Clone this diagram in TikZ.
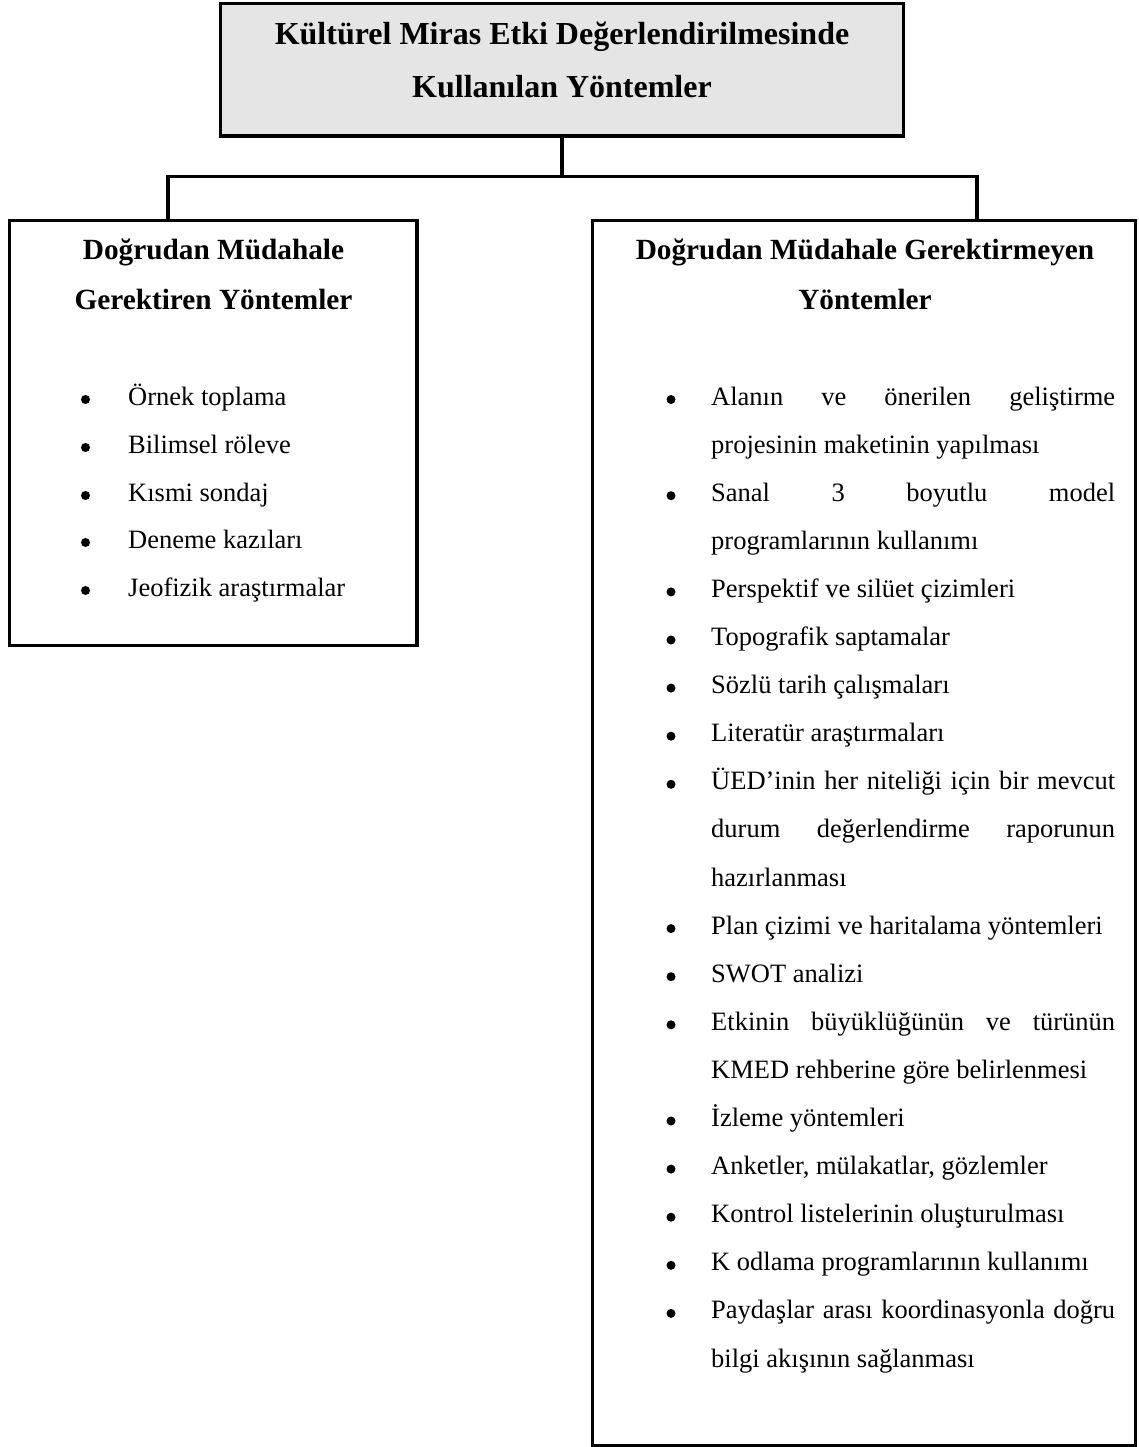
\documentclass[tikz,border=0pt]{standalone}
\usepackage{fontspec}
\setmainfont{Liberation Serif}
\tikzset{
  box/.style={draw, line width=3.5pt, rectangle, inner sep=0pt},
  conn/.style={line width=3.5pt},
  titletxt/.style={font=\fontsize{32}{38}\selectfont\bfseries, anchor=base, inner sep=0pt},
  headtxt/.style={font=\fontsize{29.3}{35}\selectfont\bfseries, anchor=base, inner sep=0pt},
  itemtxt/.style={font=\fontsize{26.5}{32}\selectfont, anchor=base west, inner sep=0pt},
  blt/.style={circle, fill=black, minimum size=9pt, inner sep=0pt},
}
\newcommand{\jline}[1]{\makebox[404pt][s]{#1}}
\begin{document}
\begin{tikzpicture}[x=1pt,y=-1pt]
\useasboundingbox (0,0) rectangle (1139,1447);
% boxes
\node[box, fill=gray!20, minimum width=683.2pt, minimum height=132.7pt] (top) at (562.1,69.65) {};
\node[box, fill=white, minimum width=407.5pt, minimum height=425.2pt] (left) at (213.25,432.9) {};
\node[box, fill=white, minimum width=542.6pt, minimum height=1225.2pt] (right) at (864,832.9) {};
% connectors
\coordinate (lj) at (168,176.5);
\coordinate (rj) at (977,176.5);
\draw[conn] (top.south) -- (top.south |- lj);
\draw[conn] (lj |- left.north) -- (lj) -- (rj) -- (rj |- right.north);
% title
\node[titletxt] (t1) at (562,45) {Kültürel Miras Etki Değerlendirilmesinde};
\node[titletxt] (t2) at (562,98) {Kullanılan Yöntemler};
% headings
\node[headtxt] (lh1) at (213.5,259) {Doğrudan Müdahale};
\node[headtxt] (lh2) at (213.5,309) {Gerektiren Yöntemler};
\node[headtxt] (rh1) at (865,259) {Doğrudan Müdahale Gerektirmeyen};
\node[headtxt] (rh2) at (865,309) {Yöntemler};
% left items
\node[blt] (lb1) at (85.5,399.5) {};
\node[itemtxt] (li1) at (128,405) {Örnek toplama};
\node[blt] (lb2) at (85.5,447.5) {};
\node[itemtxt] (li2) at (128,453) {Bilimsel röleve};
\node[blt] (lb3) at (85.5,495.5) {};
\node[itemtxt] (li3) at (128,501) {Kısmi sondaj};
\node[blt] (lb4) at (85.5,542.5) {};
\node[itemtxt] (li4) at (128,548) {Deneme kazıları};
\node[blt] (lb5) at (85.5,590.5) {};
\node[itemtxt] (li5) at (128,596) {Jeofizik araştırmalar};
% right items
\node[blt] (rb0) at (671,399.5) {};
\node[itemtxt] (r0) at (711,405) {\jline{Alanın ve önerilen geliştirme}};
\node[itemtxt] (r1) at (711,453.1) {projesinin maketinin yapılması};
\node[blt] (rb2) at (671,495.7) {};
\node[itemtxt] (r2) at (711,501.2) {\jline{Sanal 3 boyutlu model}};
\node[itemtxt] (r3) at (711,549.3) {programlarının kullanımı};
\node[blt] (rb4) at (671,591.9) {};
\node[itemtxt] (r4) at (711,597.4) {Perspektif ve silüet çizimleri};
\node[blt] (rb5) at (671,640) {};
\node[itemtxt] (r5) at (711,645.5) {Topografik saptamalar};
\node[blt] (rb6) at (671,688.1) {};
\node[itemtxt] (r6) at (711,693.6) {Sözlü tarih çalışmaları};
\node[blt] (rb7) at (671,736.2) {};
\node[itemtxt] (r7) at (711,741.7) {Literatür araştırmaları};
\node[blt] (rb8) at (671,784.3) {};
\node[itemtxt] (r8) at (711,789.8) {\jline{ÜED’inin her niteliği için bir mevcut}};
\node[itemtxt] (r9) at (711,837.9) {\jline{durum değerlendirme raporunun}};
\node[itemtxt] (r10) at (711,886) {hazırlanması};
\node[blt] (rb11) at (671,928.6) {};
\node[itemtxt] (r11) at (711,934.1) {Plan çizimi ve haritalama yöntemleri};
\node[blt] (rb12) at (671,976.7) {};
\node[itemtxt] (r12) at (711,982.2) {SWOT analizi};
\node[blt] (rb13) at (671,1024.8) {};
\node[itemtxt] (r13) at (711,1030.3) {\jline{Etkinin büyüklüğünün ve türünün}};
\node[itemtxt] (r14) at (711,1078.4) {KMED rehberine göre belirlenmesi};
\node[blt] (rb15) at (671,1121) {};
\node[itemtxt] (r15) at (711,1126.5) {İzleme yöntemleri};
\node[blt] (rb16) at (671,1169.1) {};
\node[itemtxt] (r16) at (711,1174.6) {Anketler, mülakatlar, gözlemler};
\node[blt] (rb17) at (671,1217.2) {};
\node[itemtxt] (r17) at (711,1222.7) {Kontrol listelerinin oluşturulması};
\node[blt] (rb18) at (671,1265.3) {};
\node[itemtxt] (r18) at (711,1270.8) {K odlama programlarının kullanımı};
\node[blt] (rb19) at (671,1313.4) {};
\node[itemtxt] (r19) at (711,1318.9) {\jline{Paydaşlar arası koordinasyonla doğru}};
\node[itemtxt] (r20) at (711,1367) {bilgi akışının sağlanması};
\end{tikzpicture}
\end{document}
